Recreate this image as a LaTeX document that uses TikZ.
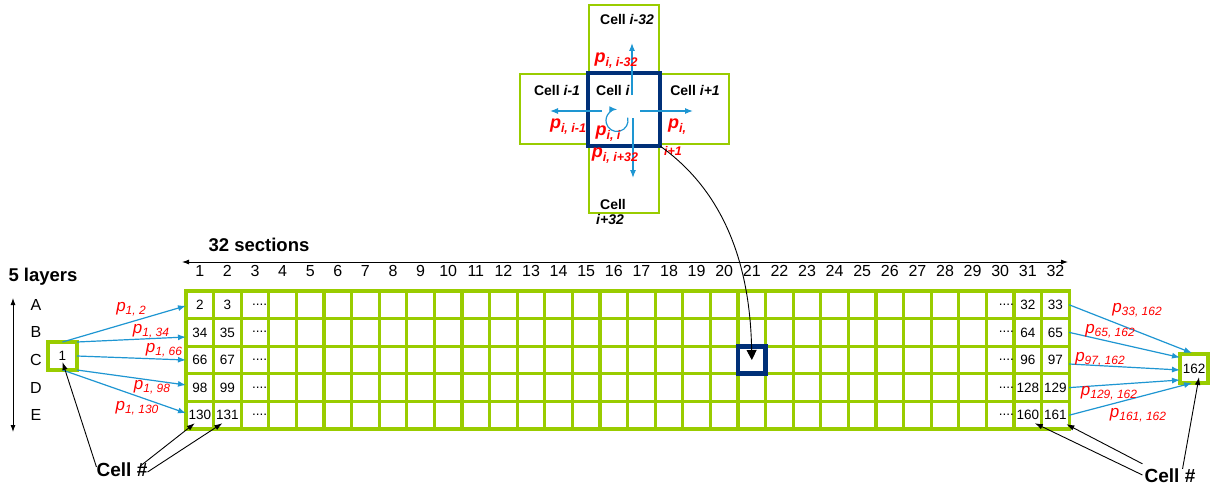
\documentclass[tikz,border=0pt]{standalone}
\usepackage{fontspec}
\setmainfont{Liberation Sans}
\usetikzlibrary{arrows.meta,calc}
\definecolor{grn}{RGB}{153,204,0}
\definecolor{navy}{RGB}{0,48,120}
\definecolor{arrblue}{RGB}{30,150,210}
\definecolor{pred}{RGB}{255,0,0}
\newcommand{\fs}[1]{\fontsize{#1}{#1}\selectfont}
\newcommand{\pp}[1]{{\fs{17}\itshape p}\raisebox{-3.5pt}{\fs{12}\itshape #1}}
\newcommand{\pbold}[1]{{\fs{18}\bfseries\itshape p}\raisebox{-4pt}{\fs{12.5}\bfseries\itshape #1}}
\begin{document}
\begin{tikzpicture}[x=1pt,y=-1pt,
  cellbox/.style={draw=grn,line width=3.2pt,minimum width=27.6pt,minimum height=27.6pt,inner sep=0pt,outer sep=0pt},
  num/.style={font=\fs{13.5},inner sep=0pt},
  colnum/.style={font=\fs{16},inner sep=0pt},
  hdr/.style={font=\fs{18.5}\bfseries,inner sep=0pt},
  crossbox/.style={draw=grn,line width=2.8pt,inner sep=0pt,outer sep=0pt},
  navybox/.style={draw=navy,line width=4.8pt,inner sep=0pt,outer sep=0pt},
  ctext/.style={font=\fs{14}\bfseries,inner sep=0pt},
  barrow/.style={draw=arrblue,line width=1.2pt,-{Latex[length=8pt,width=6pt]}},
  karrow/.style={draw=black,line width=0.9pt,-{Latex[length=8pt,width=5.5pt]}},
  dblarrow/.style={draw=black,line width=0.9pt,{Latex[length=7pt,width=5pt]}-{Latex[length=7pt,width=5pt]}},
  rlab/.style={text=pred,inner sep=0pt},
]
\useasboundingbox (0,0) rectangle (1213,487);
\fill[white] (0,0) rectangle (1213,487);

% ---- grid ----
\foreach \r in {1,...,5}{
  \foreach \c in {1,...,32}{
    \node[cellbox] (c-\r-\c) at ({186+(\c-0.5)*27.6},{291+(\r-0.5)*27.6}) {};
  }
}
\foreach \c in {1,...,32}{
  \node[colnum] (h\c) at ({186+(\c-0.5)*27.6},271) {\c};
}
\foreach \r/\a/\b/\y/\z in {1/2/3/32/33,2/34/35/64/65,3/66/67/96/97,4/98/99/128/129,5/130/131/160/161}{
  \node[num] (t-\r-1) at (c-\r-1) {\a};
  \node[num] (t-\r-2) at (c-\r-2) {\b};
  \node[num] (t-\r-31) at (c-\r-31) {\y};
  \node[num] (t-\r-32) at (c-\r-32) {\z};
  \node[num,anchor=base east] (d-\r-3) at ($(c-\r-3.east)+(-1.5,0.5)$) {....};
  \node[num,anchor=base east] (d-\r-30) at ($(c-\r-30.east)+(0,0.5)$) {....};
}
\node[navybox,minimum width=27.6pt,minimum height=27.6pt] (hl) at (c-3-21) {};

% ---- headers ----
\node[hdr] (sec) at (259,245) {32 sections};
\coordinate (sL) at (182,262);
\coordinate (sR) at (1068,262);
\draw[dblarrow] (sL) -- (sR);
\node[hdr] (lay) at (43,277) {5 layers};
\coordinate (lT) at (13,298);
\coordinate (lB) at (13,432);
\draw[dblarrow] (lT) -- (lB);
\foreach \r/\L in {1/A,2/B,3/C,4/D,5/E}{
  \node[colnum] (L\r) at (36,{291+(\r-0.5)*27.6}) {\L};
}

% ---- source and sink ----
\node[cellbox,minimum width=29pt,minimum height=28pt,font=\fs{13.5}] (n1) at (62.5,356) {1};
\node[cellbox,minimum width=28pt,minimum height=29pt,font=\fs{13.5}] (n162) at (1194,368.5) {162};

\draw[barrow] (n1.north) -- ($(c-1-1.west)+(0,1)$);
\draw[barrow] (n1.north east) -- ($(c-2-1.west)+(0,4.6)$);
\draw[barrow] (n1.east) -- (c-3-1.west);
\draw[barrow] (n1.south east) -- ($(c-4-1.west)+(0,-2.6)$);
\draw[barrow] (n1.south) -- ($(c-5-1.west)+(0,-2)$);

\draw[barrow] (c-1-32.east) -- ($(n162.north)+(-2,-1)$);
\draw[barrow] (c-2-32.east) -- ($(n162.west)+(0,-11)$);
\draw[barrow] ($(c-3-32.east)+(0,4)$) -- ($(n162.west)+(0,1.5)$);
\draw[barrow] (c-4-32.east) -- ($(n162.west)+(0,11.5)$);
\draw[barrow] (c-5-32.east) -- ($(n162.south)+(-2,0)$);

\node[rlab] (q1) at (131,309) {\pp{1, 2}};
\node[rlab] (q2) at (151,331) {\pp{1, 34}};
\node[rlab] (q3) at (164,350) {\pp{1, 66}};
\node[rlab] (q4) at (152,387) {\pp{1, 98}};
\node[rlab] (q5) at (137,408) {\pp{1, 130}};

\node[rlab] (s1) at (1137,310) {\pp{33, 162}};
\node[rlab] (s2) at (1110,331) {\pp{65, 162}};
\node[rlab] (s3) at (1100,359) {\pp{97, 162}};
\node[rlab] (s4) at (1109,393) {\pp{129, 162}};
\node[rlab] (s5) at (1138,415) {\pp{161, 162}};

% ---- Cell # labels ----
\node[hdr,font=\fs{19}\bfseries] (cl) at (122,470) {Cell \#};
\node[hdr,font=\fs{19}\bfseries] (cr) at (1170,476) {Cell \#};
\draw[karrow] ($(cl.west)+(0,-3)$) -- ($(n1.center)+(0,6)$);
\draw[karrow] ($(cl.north east)+(-7,3)$) -- ($(c-5-1.center)+(-5,8)$);
\draw[karrow] ($(cl.east)+(0,2)$) -- ($(c-5-2.center)+(-5,8)$);
\draw[karrow] ($(cr.west)+(-2,-1)$) -- ($(c-5-31.center)+(7,8)$);
\draw[karrow] ($(cr.north west)+(-2,-5)$) -- ($(c-5-32.center)+(11,9)$);
\draw[karrow] ($(cr.north east)+(-13,0)$) -- ($(n162.center)+(5,8.5)$);

% ---- cross ----
\node[crossbox,minimum width=70pt,minimum height=68pt] (cup) at (624,39) {};
\node[crossbox,minimum width=68pt,minimum height=70pt] (cleft) at (554,109) {};
\node[crossbox,minimum width=69pt,minimum height=70pt] (cright) at (694.5,109) {};
\node[crossbox,minimum width=70pt,minimum height=67pt] (cdown) at (624,179.5) {};
\node[navybox,minimum width=72pt,minimum height=73pt] (ci) at (624,109.5) {};

\node[ctext] (tup) at (627,19) {Cell \textit{i-32}};
\node[ctext] (tleft) at (557,90) {Cell \textit{i-1}};
\node[ctext] (tmid) at (613,90) {Cell \textit{i}};
\node[ctext] (tright) at (695,90) {Cell \textit{i+1}};
\node[ctext] (tdown) at (613,204) {Cell};
\node[ctext] (tdown2) at (610,219) {\textit{i+32}};

\coordinate (uS) at (632,95);  \coordinate (uE) at (632,43);
\coordinate (lS) at (602,111); \coordinate (lE) at (550,111);
\coordinate (rS) at (640,111); \coordinate (rE) at (693,111);
\coordinate (dS) at (633,118); \coordinate (dE) at (633,178);
\draw[barrow] (uS) -- (uE);
\draw[barrow] (lS) -- (lE);
\draw[barrow] (rS) -- (rE);
\draw[barrow] (dS) -- (dE);
\coordinate (cc) at (617,120.5);
\draw[barrow] ($(cc)+(-15:11)$) arc[start angle=-15,end angle=272,radius=11];

\node[rlab] (pu) at (616,61) {\pbold{i, i-32}};
\node[rlab] (pl) at (568,127) {\pbold{i, i-1}};
\node[rlab] (pm) at (608,134) {\pbold{i, i}};
\node[rlab] (pr) at (677,127) {\pbold{i,}};
\node[rlab,font=\fs{12.5}\bfseries\itshape] (pr2) at (673,151) {i+1};
\node[rlab] (pd) at (615,156) {\pbold{i, i+32}};

\draw[line width=0.9pt,-{Triangle[length=10pt,width=10pt]}] (ci.south east) .. controls +(55,39) and +(-1.8,-110) .. (hl.center);
\end{tikzpicture}
\end{document}
